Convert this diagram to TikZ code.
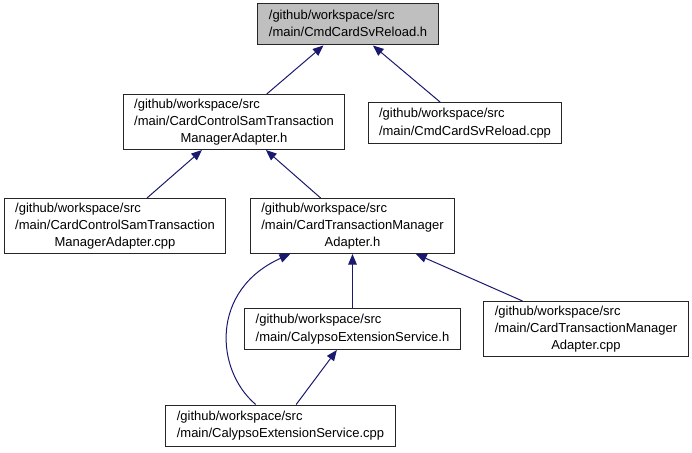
\documentclass[tikz,border=0pt]{standalone}
\usepackage{fontspec}
\setmainfont{Liberation Sans}
\usetikzlibrary{arrows.meta}
\definecolor{edgeblue}{HTML}{191970}
\definecolor{selgray}{HTML}{BFBFBF}
\newcommand{\twoline}[2]{\begin{tabular}{@{}l@{}}#1\\#2\end{tabular}}
\newcommand{\threeline}[3]{\begin{tabular}{@{}l@{}}#1\\#2\\\multicolumn{1}{@{}c@{}}{#3}\end{tabular}}

\begin{document}
\begin{tikzpicture}[
    x=0.75pt, y=-0.75pt,
    file/.style={draw=black!85, line width=0.75pt, fill=white, inner xsep=8.25pt, inner ysep=0pt, minimum height=30.75pt, font=\fontsize{9.75}{13.1}\selectfont},
    tall/.style={file, minimum height=41.25pt},
    edge/.style={-{Triangle[length=8pt,width=6.5pt]}, line width=0.75pt, edgeblue},
]
\useasboundingbox (0,0) rectangle (692,453);

% Header being documented
\node[file, fill=selgray] (cmdh) at (348,24.5) {\twoline{/github/workspace/src}{/main/CmdCardSvReload.h}};

% First level
\node[tall] (ccsh) at (234,122) {\threeline{/github/workspace/src}{/main/CardControlSamTransaction}{ManagerAdapter.h}};
\node[file] (cmdcpp) at (465,123) {\twoline{/github/workspace/src}{/main/CmdCardSvReload.cpp}};

% Second level
\node[tall] (ccscpp) at (115,226) {\threeline{/github/workspace/src}{/main/CardControlSamTransaction}{ManagerAdapter.cpp}};
\node[tall] (ctmh) at (352.5,226) {\threeline{/github/workspace/src}{/main/CardTransactionManager}{Adapter.h}};

% Third level
\node[file] (cesh) at (352.5,329) {\twoline{/github/workspace/src}{/main/CalypsoExtensionService.h}};
\node[tall] (ctmcpp) at (586,329) {\threeline{/github/workspace/src}{/main/CardTransactionManager}{Adapter.cpp}};

% Bottom
\node[file] (cescpp) at (280.5,425.5) {\twoline{/github/workspace/src}{/main/CalypsoExtensionService.cpp}};

% Include arrows
\draw[edge] (ccsh) -- (cmdh);
\draw[edge] (cmdcpp) -- (cmdh);
\draw[edge] (ccscpp) -- (ccsh);
\draw[edge] (ctmh) -- (ccsh);
\draw[edge] (cesh) -- (ctmh);
\draw[edge] (ctmcpp) -- (ctmh);
\draw[edge] (cescpp) .. controls (215,370) and (210,290) .. (ctmh);
\draw[edge] (cescpp) -- (cesh);
\end{tikzpicture}
\end{document}
